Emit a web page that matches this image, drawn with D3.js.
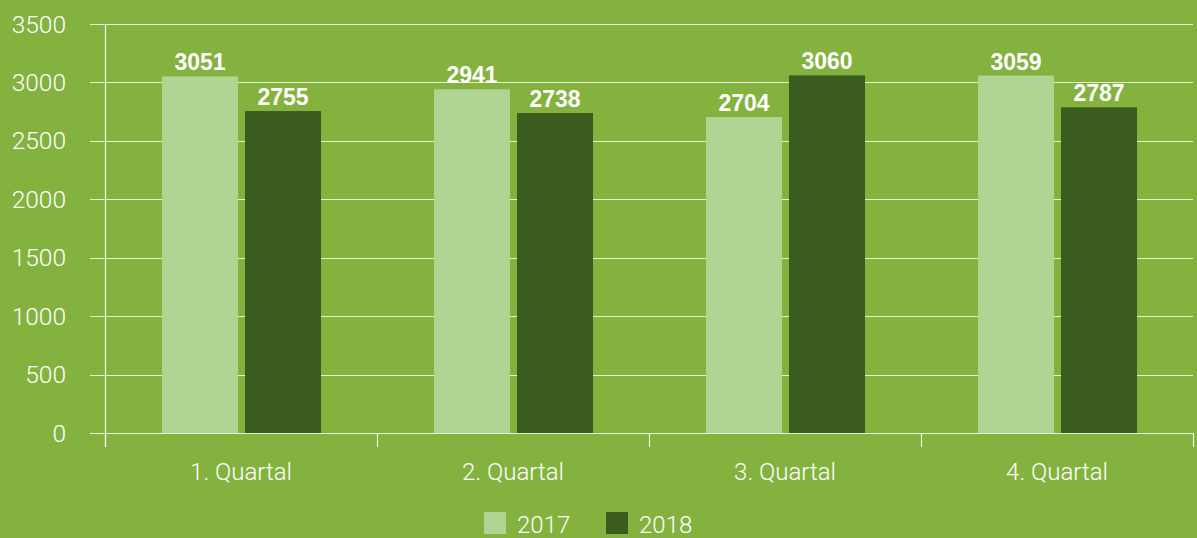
<!DOCTYPE html>
<html>
<head>
<meta charset="utf-8">
<style>
  html, body { margin: 0; padding: 0; background: #83b23e; }
  svg { display: block; }
</style>
</head>
<body>
<svg id="chart"></svg>
<script src="https://cdn.jsdelivr.net/npm/d3@7/dist/d3.min.js"></script>
<script>
  var quarters = ["1. Quartal", "2. Quartal", "3. Quartal", "4. Quartal"];
  var years = ["2017", "2018"];
  var values2017 = [3051, 2941, 2704, 3059];
  var values2018 = [2755, 2738, 3060, 2787];
  var yTicks = [0, 500, 1000, 1500, 2000, 2500, 3000, 3500];

  var width = 1197, height = 538;
  var bg = "#83b23e";
  var colors = { "2017": "#b0d494", "2018": "#3a5c1f" };
  var lightFont = "Roboto, 'Liberation Sans', sans-serif";
  var boldFont = "'Liberation Sans', Arial, sans-serif";

  var rows = quarters.map((q, i) => ({ q: q, "2017": values2017[i], "2018": values2018[i] }));

  var svg = d3.select("#chart")
    .attr("width", width)
    .attr("height", height);

  svg.append("rect").attr("width", width).attr("height", height).attr("fill", bg);

  var x = d3.scaleBand().domain(quarters).range([105, 1193]);
  var xIn = d3.scaleBand().domain(years).range([57, 216]).paddingInner(0.084);
  var y = d3.scaleLinear().domain([0, 3500]).range([433, 24]);

  // gridlines + y labels
  var grid = svg.append("g");
  grid.selectAll("line").data(yTicks).join("line")
    .attr("x1", 90).attr("x2", 1193)
    .attr("y1", d => Math.round(y(d)) + 0.5).attr("y2", d => Math.round(y(d)) + 0.5)
    .attr("stroke", "#fff").attr("stroke-opacity", 0.8).attr("stroke-width", 1.2);
  grid.selectAll("text").data(yTicks).join("text")
    .attr("x", 66).attr("y", d => y(d) + 8.5)
    .attr("text-anchor", "end")
    .attr("fill", "#fff")
    .style("font-family", lightFont).style("font-weight", 300).style("font-size", "24.5px")
    .text(d => d);

  // y axis line
  svg.append("line")
    .attr("x1", 105.5).attr("x2", 105.5).attr("y1", 24).attr("y2", 447)
    .attr("stroke", "#fff").attr("stroke-width", 1.2);

  // x axis ticks
  var xTickPos = quarters.map(q => x(q)).concat([x.range()[1]]);
  svg.append("g").selectAll("line").data(xTickPos).join("line")
    .attr("x1", d => Math.round(d) + 0.5).attr("x2", d => Math.round(d) + 0.5)
    .attr("y1", 433).attr("y2", 447)
    .attr("stroke", "#fff").attr("stroke-width", 1.2);

  svg.append("g").selectAll("text").data(quarters).join("text")
    .attr("x", d => x(d) + x.bandwidth() / 2)
    .attr("y", 480)
    .attr("text-anchor", "middle")
    .attr("fill", "#fff")
    .style("font-family", lightFont).style("font-weight", 300).style("font-size", "24px")
    .text(d => d);

  // bars
  var groups = svg.append("g").selectAll("g").data(rows).join("g")
    .attr("transform", d => `translate(${x(d.q)},0)`);

  groups.selectAll("rect").data(d => years.map(k => ({ k: k, v: d[k] }))).join("rect")
    .attr("x", d => xIn(d.k))
    .attr("width", xIn.bandwidth())
    .attr("y", d => y(d.v))
    .attr("height", d => y(0) - y(d.v))
    .attr("fill", d => colors[d.k]);

  groups.selectAll("text").data(d => years.map(k => ({ k: k, v: d[k] }))).join("text")
    .attr("x", d => xIn(d.k) + xIn.bandwidth() / 2)
    .attr("y", d => y(d.v) - 6)
    .attr("text-anchor", "middle")
    .attr("fill", "#fff")
    .style("font-family", boldFont).style("font-weight", 700).style("font-size", "23px")
    .text(d => d.v);

  // legend
  var legendX = [484, 606];
  var legend = svg.append("g").selectAll("g").data(years).join("g")
    .attr("transform", (d, i) => `translate(${legendX[i]},512)`);
  legend.append("rect").attr("width", 22).attr("height", 22).attr("fill", d => colors[d]);
  legend.append("text")
    .attr("x", 33).attr("y", 21)
    .attr("fill", "#fff")
    .style("font-family", lightFont).style("font-weight", 300).style("font-size", "24px")
    .text(d => d);
</script>
</body>
</html>
